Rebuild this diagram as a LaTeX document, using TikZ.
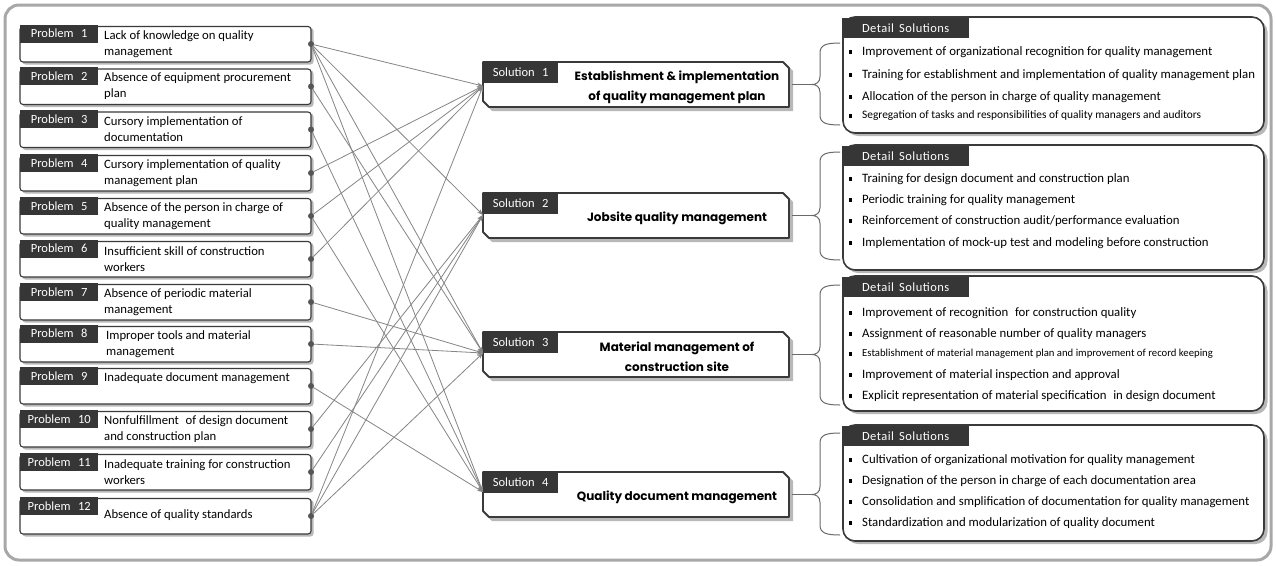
\documentclass[tikz,border=0pt]{standalone}
\usepackage{fontspec}
\setmainfont{Carlito}
\newfontfamily\solfont{Poppins}
\usetikzlibrary{arrows.meta}
\definecolor{labc}{HTML}{363636}
\definecolor{framec}{HTML}{3A3A3A}
\definecolor{shadc}{HTML}{B8B8B8}
\definecolor{linec}{HTML}{858585}
\definecolor{dotc}{HTML}{555555}
\definecolor{outerc}{HTML}{A8A8A8}
\definecolor{bracec}{HTML}{6A6A6A}
\tikzset{
  probframe/.style={draw=framec, line width=1.1pt, fill=white, rounded corners=3pt},
  shadowfill/.style={fill=shadc, rounded corners=3pt},
  darklabel/.style={fill=labc, text=white, inner sep=0pt, font=\fontsize{12.5}{13}\selectfont},
  probtext/.style={align=left, inner sep=0pt, font=\fontsize{12.7}{16}\selectfont, anchor=west},
  dotnode/.style={circle, fill=dotc, inner sep=0pt, minimum size=6pt},
  conn/.style={draw=linec, line width=0.8pt, -{Stealth[length=6pt,width=4.5pt]}},
  solframe/.style={draw=framec, line width=1.8pt, fill=white, line join=round},
  soltext/.style={align=center, inner sep=0pt, font=\solfont\bfseries\fontsize{12}{20}\selectfont},
  detframe/.style={draw=framec, line width=1.6pt, fill=white, rounded corners=12pt},
  dettext/.style={inner sep=0pt, anchor=west, font=\fontsize{12.8}{13}\selectfont},
  bracestyle/.style={draw=bracec, line width=1pt},
  outerframe/.style={draw=outerc, line width=3pt, rounded corners=14pt},
}
\newcommand{\probitem}[4]{%
  \fill[shadowfill] (22.5,{#2-16}) rectangle (313.5,{#2+20.5});
  \draw[probframe] (20,{#2-17.5}) rectangle (311,{#2+18});
  \node[darklabel, minimum width=78pt, minimum height=18pt, anchor=north west] (pl#1) at (20,{#2-19.5}) {Problem\hspace{0.6em}#1};
  \node[probtext] (pt#1) at (104,#4) {#3};
  \node[dotnode] (p#1) at (311,#2) {};
}
\newcommand{\solitem}[4]{%
  \fill[shadc] (486,{#2+3}) -- (787,{#2+3}) -- (793,{#2+9}) -- (793,{#2+49}) -- (492,{#2+49}) -- (486,{#2+43}) -- cycle;
  \draw[solframe] (483,#2) -- (783,#2) -- (789,{#2+6}) -- (789,{#2+45}) -- (489,{#2+45}) -- (483,{#2+39}) -- cycle;
  \node[darklabel, minimum width=75pt, minimum height=22pt, anchor=north west] (sl#1) at (483,{#2-1}) {Solution\hspace{0.6em}#1\hspace{0.6em}};
  \node[soltext] (st#1) at (677,{#2+25}) {#3};
  \coordinate (s#1) at (483,#4);
  \coordinate (se#1) at (792,{#2+22.5});
}
\newcommand{\detbox}[3]{%
  \fill[shadc, rounded corners=12pt] (846,{#2+3}) rectangle (1267.5,{#3+3});
  \draw[detframe] (843,#2) rectangle (1264,#3);
  \node[darklabel, minimum width=127pt, minimum height=20pt, anchor=north west] (dl#1) at (842,{#2+1}) {\addfontfeatures{LetterSpace=4}Detail\hspace{0.4em}Solutions};
}
\newcommand{\detitem}[4]{%
  \fill[black] (848.5,{#1-1.8}) rectangle (852.1,{#1+1.8});
  \node[dettext, font=\fontsize{#4}{13}\selectfont] (#2) at (862,#1) {#3};
}
\newcommand{\bracepath}[4]{%
  \coordinate (bt#1) at (812,#3);
  \draw[bracestyle] (840,#2) .. controls (826,#2) and (820,{#2+2}) .. (820,{#2+10}) -- (820,{#3-8}) .. controls (820,{#3-2}) and (816,#3) .. (bt#1) .. controls (816,#3) and (820,{#3+2}) .. (820,{#3+8}) -- (820,{#4-10}) .. controls (820,{#4-2}) and (826,#4) .. (840,#4);
  \draw[bracestyle] (se#1) -- (bt#1);
}
\begin{document}
\begin{tikzpicture}[x=1pt,y=-1pt]
\useasboundingbox (0,0) rectangle (1276,565);
\fill[white] (0,0) rectangle (1276,565);
\draw[outerframe] (5,5) rectangle (1271,560);

\probitem{1}{44}{Lack of knowledge on quality\\management}{44}
\probitem{2}{86.5}{Absence of equipment procurement\\plan}{86.5}
\probitem{3}{129.5}{Cursory implementation of\\documentation}{129.5}
\probitem{4}{173}{Cursory implementation of quality\\management plan}{173}
\probitem{5}{216}{Absence of the person in charge of\\quality management}{216}
\probitem{6}{259}{Insufficient skill of construction\\workers}{259}
\probitem{7}{302}{Absence of periodic material\\management}{302}
\probitem{8}{344}{\hspace{2pt}Improper tools and material\\\hspace{2pt}management}{344}
\probitem{9}{386}{Inadequate document management}{378}
\probitem{10}{429}{Nonfulfillment\hspace{0.3em} of design document\\and construction plan}{429}
\probitem{11}{472}{Inadequate training for construction\\workers}{472}
\probitem{12}{516}{Absence of quality standards}{515}

\solitem{1}{62}{Establishment \& implementation\\of quality management plan}{86}
\solitem{2}{193}{Jobsite quality management}{215}
\solitem{3}{332}{Material management of\\construction site}{353}
\solitem{4}{472}{Quality document management}{492}

\draw[conn] (p1) -- (s1);
\draw[conn] (p1) -- (s2);
\draw[conn] (p1) -- (s3);
\draw[conn] (p1) -- (s4);
\draw[conn] (p2) -- (s3);
\draw[conn] (p3) -- (s4);
\draw[conn] (p4) -- (s1);
\draw[conn] (p5) -- (s1);
\draw[conn] (p5) -- (s4);
\draw[conn] (p6) -- (s1);
\draw[conn] (p7) -- (s3);
\draw[conn] (p8) -- (s3);
\draw[conn] (p9) -- (s4);
\draw[conn] (p10) -- (s2);
\draw[conn] (p11) -- (s2);
\draw[conn] (p12) -- (s1);
\draw[conn] (p12) -- (s2);
\draw[conn] (p12) -- (s3);

\detbox{1}{17}{133}
\detitem{52}{d11}{Improvement of organizational recognition for quality management}{12.8}
\detitem{75}{d12}{Training for establishment and implementation of quality management plan}{12.8}
\detitem{97}{d13}{Allocation of the person in charge of quality management}{12.8}
\detitem{116}{d14}{Segregation of tasks and responsibilities of quality managers and auditors}{11.4}

\detbox{2}{145}{270}
\detitem{179}{d21}{Training for design document and construction plan}{12.8}
\detitem{200}{d22}{Periodic training for quality management}{12.8}
\detitem{221}{d23}{Reinforcement of construction audit/performance evaluation}{12.8}
\detitem{243}{d24}{Implementation of mock-up test and modeling before construction}{12.8}

\detbox{3}{276}{411}
\detitem{313}{d31}{Improvement of recognition\hspace{0.3em} for construction quality}{12.8}
\detitem{334}{d32}{Assignment of reasonable number of quality managers}{12.8}
\detitem{354}{d33}{Establishment of material management plan and improvement of record keeping}{10.7}
\detitem{375}{d34}{Improvement of material inspection and approval}{12.8}
\detitem{396}{d35}{Explicit representation of material specification\hspace{0.3em} in design document}{12.8}

\detbox{4}{425}{541}
\detitem{460}{d41}{Cultivation of organizational motivation for quality management}{12.8}
\detitem{481}{d42}{Designation of the person in charge of each documentation area}{12.8}
\detitem{502}{d43}{Consolidation and smplification of documentation for quality management}{12.8}
\detitem{523}{d44}{Standardization and modularization of quality document}{12.8}

\bracepath{1}{43}{84.5}{125}
\bracepath{2}{152}{215.5}{260}
\bracepath{3}{285}{354.5}{405}
\bracepath{4}{433}{494.5}{535}
\end{tikzpicture}
\end{document}
